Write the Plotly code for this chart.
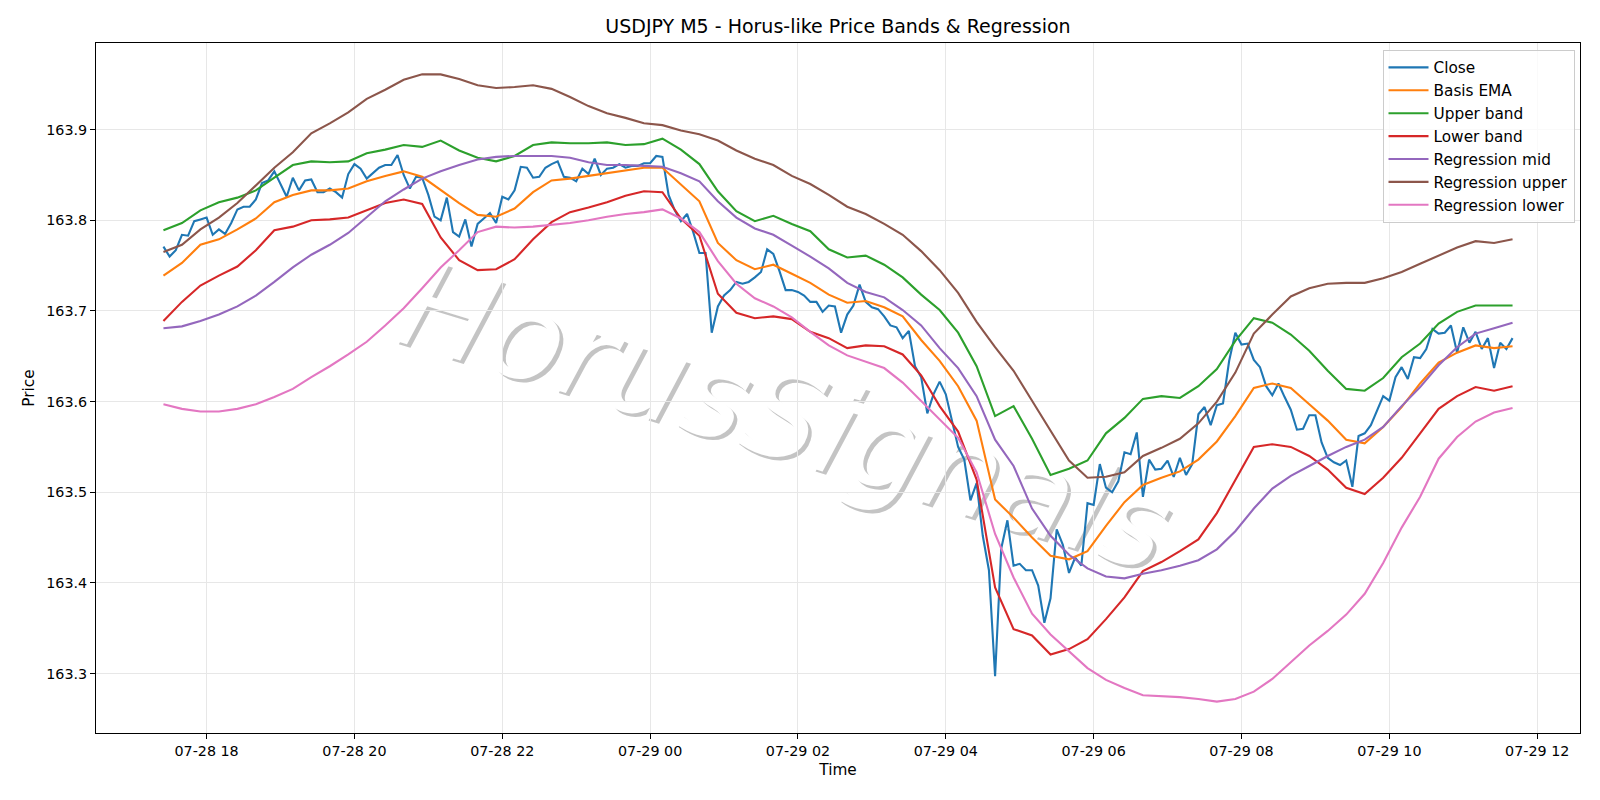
import pandas as pd
import plotly.graph_objects as go

# ---------------- data ----------------
times = pd.date_range("2025-07-28 17:25", periods=220, freq="5min")

close = [163.771, 163.760, 163.767, 163.784, 163.783, 163.799, 163.801, 163.803, 163.784, 163.790,
         163.785, 163.797, 163.812, 163.815, 163.815, 163.823, 163.841, 163.844, 163.854, 163.839,
         163.826, 163.847, 163.833, 163.844, 163.845, 163.831, 163.831, 163.835, 163.831, 163.825,
         163.851, 163.862, 163.857, 163.846, 163.852, 163.858, 163.861, 163.861, 163.872, 163.850,
         163.835, 163.848, 163.847, 163.828, 163.804, 163.800, 163.825, 163.787, 163.782, 163.801,
         163.771, 163.796, 163.802, 163.808, 163.797, 163.826, 163.823, 163.833, 163.859, 163.858,
         163.847, 163.848, 163.858, 163.862, 163.865, 163.848, 163.847, 163.843, 163.857, 163.851,
         163.868, 163.850, 163.857, 163.858, 163.862, 163.858, 163.860, 163.860, 163.863, 163.863,
         163.871, 163.870, 163.828, 163.811, 163.799, 163.807, 163.787, 163.764, 163.764, 163.676,
         163.705, 163.717, 163.723, 163.732, 163.730, 163.732, 163.737, 163.743, 163.768, 163.763,
         163.744, 163.723, 163.723, 163.721, 163.717, 163.710, 163.710, 163.699, 163.706, 163.705,
         163.676, 163.696, 163.706, 163.729, 163.710, 163.704, 163.702, 163.694, 163.684, 163.682,
         163.670, 163.678, 163.639, 163.627, 163.587, 163.608, 163.622, 163.608, 163.579, 163.550,
         163.536, 163.491, 163.510, 163.452, 163.414, 163.297, 163.438, 163.469, 163.419, 163.421,
         163.414, 163.414, 163.397, 163.356, 163.383, 163.459, 163.442, 163.411, 163.428, 163.419,
         163.488, 163.486, 163.531, 163.505, 163.500, 163.512, 163.544, 163.542, 163.566, 163.495,
         163.536, 163.525, 163.526, 163.535, 163.517, 163.538, 163.519, 163.531, 163.586, 163.594,
         163.574, 163.596, 163.598, 163.645, 163.676, 163.663, 163.664, 163.646, 163.638, 163.617,
         163.607, 163.620, 163.605, 163.591, 163.569, 163.570, 163.585, 163.585, 163.555, 163.538,
         163.533, 163.530, 163.535, 163.506, 163.562, 163.565, 163.574, 163.591, 163.606, 163.601,
         163.627, 163.638, 163.625, 163.649, 163.648, 163.658, 163.680, 163.675, 163.676, 163.684,
         163.654, 163.682, 163.665, 163.677, 163.658, 163.670, 163.637, 163.665, 163.658, 163.670]

# smooth series, read every third bar (15 min)
band_times = times[::3]

basis_ema = [163.739, 163.753, 163.773, 163.779, 163.790, 163.802, 163.820, 163.828, 163.833, 163.833,
             163.835, 163.843, 163.849, 163.854, 163.848, 163.833, 163.819, 163.806, 163.804, 163.813,
             163.831, 163.844, 163.846, 163.849, 163.852, 163.855, 163.858, 163.858, 163.840, 163.821,
             163.775, 163.756, 163.746, 163.751, 163.741, 163.731, 163.718, 163.709, 163.711, 163.704,
             163.694, 163.668, 163.645, 163.617, 163.579, 163.492, 163.472, 163.450, 163.430, 163.426,
             163.435, 163.463, 163.489, 163.508, 163.516, 163.523, 163.536, 163.556, 163.584, 163.615,
             163.620, 163.615, 163.597, 163.579, 163.558, 163.554, 163.572, 163.594, 163.620, 163.643,
             163.654, 163.662, 163.659, 163.661]

upper_band = [163.789, 163.797, 163.811, 163.820, 163.825, 163.833, 163.847, 163.861, 163.865, 163.864,
              163.865, 163.874, 163.878, 163.883, 163.881, 163.888, 163.877, 163.869, 163.865, 163.871,
              163.883, 163.886, 163.885, 163.885, 163.886, 163.883, 163.884, 163.890, 163.878, 163.862,
              163.832, 163.810, 163.799, 163.805, 163.796, 163.788, 163.768, 163.759, 163.761, 163.751,
              163.737, 163.718, 163.701, 163.676, 163.639, 163.584, 163.595, 163.559, 163.519, 163.526,
              163.535, 163.565, 163.582, 163.603, 163.606, 163.604, 163.617, 163.636, 163.667, 163.692,
              163.687, 163.674, 163.656, 163.634, 163.614, 163.612, 163.626, 163.649, 163.664, 163.686,
              163.699, 163.706, 163.706, 163.706]

lower_band = [163.689, 163.710, 163.728, 163.739, 163.749, 163.767, 163.789, 163.793, 163.800, 163.801,
              163.803, 163.811, 163.819, 163.823, 163.818, 163.781, 163.756, 163.745, 163.746, 163.757,
              163.779, 163.798, 163.809, 163.814, 163.820, 163.827, 163.832, 163.831, 163.802, 163.783,
              163.719, 163.698, 163.692, 163.694, 163.691, 163.677, 163.670, 163.659, 163.662, 163.661,
              163.652, 163.629, 163.595, 163.567, 163.514, 163.395, 163.349, 163.342, 163.321, 163.327,
              163.338, 163.360, 163.384, 163.413, 163.423, 163.435, 163.448, 163.477, 163.514, 163.550,
              163.553, 163.550, 163.540, 163.525, 163.505, 163.498, 163.516, 163.538, 163.565, 163.592,
              163.606, 163.616, 163.612, 163.617]

reg_mid = [163.681, 163.683, 163.689, 163.696, 163.705, 163.717, 163.732, 163.748, 163.762, 163.773,
           163.786, 163.804, 163.821, 163.834, 163.846, 163.854, 163.861, 163.867, 163.870, 163.871,
           163.871, 163.871, 163.869, 163.864, 163.861, 163.861, 163.860, 163.859, 163.852, 163.843,
           163.821, 163.803, 163.791, 163.784, 163.772, 163.760, 163.747, 163.731, 163.721, 163.715,
           163.701, 163.684, 163.659, 163.637, 163.606, 163.558, 163.529, 163.482, 163.452, 163.431,
           163.416, 163.407, 163.405, 163.410, 163.414, 163.419, 163.425, 163.437, 163.457, 163.482,
           163.504, 163.518, 163.529, 163.540, 163.550, 163.558, 163.572, 163.595, 163.616, 163.640,
           163.660, 163.675, 163.681, 163.687]

reg_upper = [163.765, 163.773, 163.790, 163.803, 163.819, 163.838, 163.858, 163.875, 163.896, 163.907,
             163.919, 163.934, 163.944, 163.955, 163.961, 163.961, 163.956, 163.949, 163.946, 163.947,
             163.949, 163.945, 163.936, 163.926, 163.918, 163.913, 163.907, 163.905, 163.899, 163.895,
             163.888, 163.877, 163.868, 163.861, 163.849, 163.840, 163.828, 163.815, 163.807, 163.796,
             163.784, 163.766, 163.745, 163.720, 163.688, 163.660, 163.634, 163.601, 163.568, 163.535,
             163.516, 163.517, 163.522, 163.540, 163.549, 163.559, 163.576, 163.600, 163.632, 163.675,
             163.696, 163.716, 163.725, 163.730, 163.731, 163.731, 163.736, 163.743, 163.752, 163.761,
             163.770, 163.777, 163.775, 163.779]

reg_lower = [163.597, 163.592, 163.589, 163.589, 163.592, 163.597, 163.605, 163.614, 163.627, 163.639,
             163.652, 163.666, 163.684, 163.703, 163.725, 163.748, 163.767, 163.787, 163.793, 163.792,
             163.793, 163.795, 163.797, 163.800, 163.804, 163.807, 163.809, 163.812, 163.802, 163.787,
             163.755, 163.730, 163.714, 163.705, 163.693, 163.677, 163.662, 163.651, 163.644, 163.637,
             163.621, 163.601, 163.581, 163.560, 163.522, 163.454, 163.406, 163.366, 163.343, 163.324,
             163.306, 163.293, 163.284, 163.276, 163.275, 163.274, 163.272, 163.269, 163.272, 163.280,
             163.294, 163.313, 163.331, 163.347, 163.365, 163.388, 163.422, 163.461, 163.495, 163.537,
             163.561, 163.578, 163.588, 163.593]

series = [
    ("Close", times, close, "#1f77b4"),
    ("Basis EMA", band_times, basis_ema, "#ff7f0e"),
    ("Upper band", band_times, upper_band, "#2ca02c"),
    ("Lower band", band_times, lower_band, "#d62728"),
    ("Regression mid", band_times, reg_mid, "#9467bd"),
    ("Regression upper", band_times, reg_upper, "#8c564b"),
    ("Regression lower", band_times, reg_lower, "#e377c2"),
]

FONT = "DejaVu Sans"

fig = go.Figure()
for name, xs, ys, col in series:
    fig.add_trace(go.Scatter(x=xs, y=ys, mode="lines", name=name, legendgroup=name,
                             line=dict(color=col, width=2.1)))

# axis ranges with matplotlib-like 5% margins
all_vals = close + basis_ema + upper_band + lower_band + reg_mid + reg_upper + reg_lower
vmin, vmax = min(all_vals), max(all_vals)
pad = (vmax - vmin) * 0.05
t0, t1 = times[0], times[-1]
tpad = (t1 - t0) * 0.05

# watermark (below the lines): gray shadow + white text
wm_cx, wm_cy = 0.466, 0.472
for dx, dy, col in [(0.0024, -0.005, "#c4c4c4"), (0.0, 0.0, "#ffffff")]:
    fig.add_shape(type="rect", xref="paper", yref="paper",
                  x0=wm_cx + dx - 0.001, x1=wm_cx + dx + 0.001,
                  y0=wm_cy + dy - 0.001, y1=wm_cy + dy + 0.001,
                  line=dict(width=0), fillcolor="rgba(0,0,0,0)", layer="between",
                  label=dict(text="HorusSignals", textangle=17, textposition="middle center",
                             font=dict(family=FONT, size=122, color=col, style="italic")))

fig.update_layout(
    width=1600, height=800,
    margin=dict(l=96, r=20, t=43, b=67),
    paper_bgcolor="white", plot_bgcolor="white",
    font=dict(family=FONT, size=14, color="black"),
    title=dict(text="USDJPY M5 - Horus-like Price Bands & Regression", x=0.5, xref="paper",
               y=1 - 26 / 800, yref="container", xanchor="center", yanchor="middle",
               font=dict(family=FONT, size=19, color="black")),
    showlegend=True,
    legend=dict(x=0.9963, y=0.9899, xanchor="right", yanchor="top",
                bgcolor="rgba(255,255,255,0.8)", bordercolor="#cccccc", borderwidth=1,
                font=dict(family=FONT, size=15.3, color="black"), itemwidth=40,
                tracegroupgap=0),
)

fig.update_xaxes(
    range=[t0 - tpad, t1 + tpad],
    tickformat="%m-%d %H", dtick=2 * 3600 * 1000, tick0="2025-07-28 18:00",
    showline=True, linecolor="black", linewidth=1, mirror=True,
    ticks="outside", ticklen=5, tickwidth=1, tickcolor="black",
    showgrid=True, gridcolor="#e7e7e7", gridwidth=1, zeroline=False,
    tickfont=dict(family=FONT, size=14.3, color="black"),
    title=dict(text="Time", font=dict(family=FONT, size=15.3, color="black"), standoff=6),
)
fig.update_yaxes(
    range=[vmin - pad, vmax + pad],
    dtick=0.1, tick0=163.3, tickformat=".1f",
    showline=True, linecolor="black", linewidth=1, mirror=True,
    ticks="outside", ticklen=5, tickwidth=1, tickcolor="black",
    showgrid=True, gridcolor="#e7e7e7", gridwidth=1, zeroline=False,
    tickfont=dict(family=FONT, size=14.3, color="black"),
    title=dict(text="Price", font=dict(family=FONT, size=15.3, color="black"), standoff=7),
)

fig.write_html("out.html")
